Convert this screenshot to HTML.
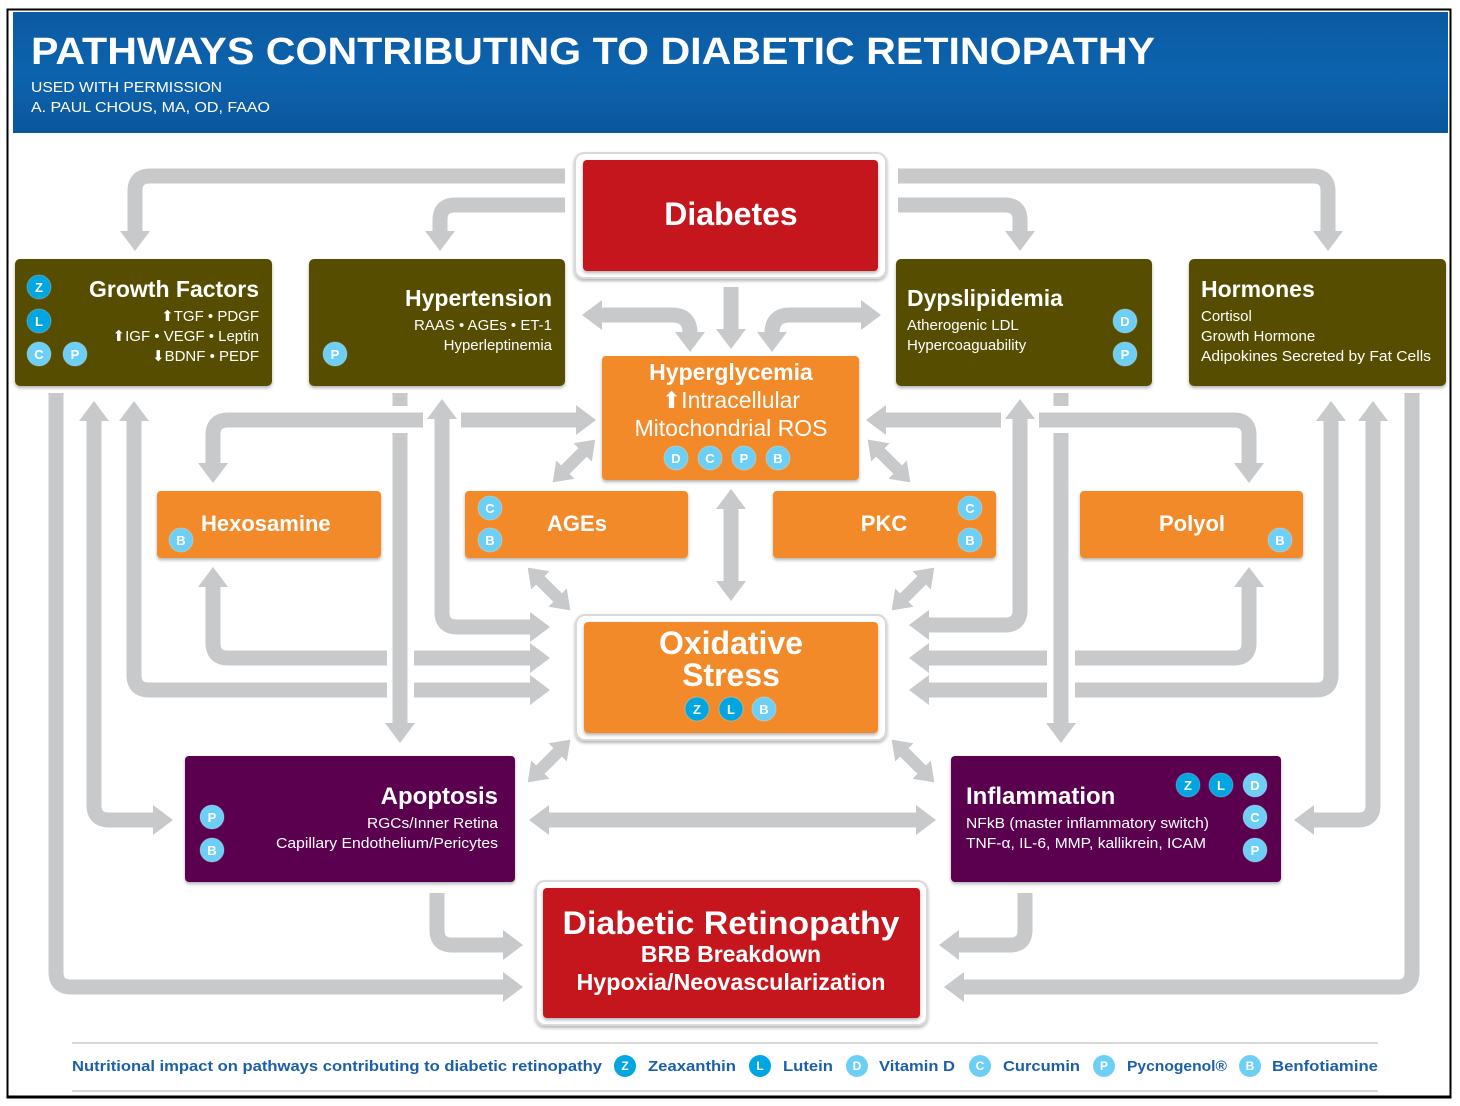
<!DOCTYPE html>
<html><head><meta charset="utf-8"><style>
html,body{margin:0;padding:0;background:#fff}
svg{display:block}
text{font-family:"Liberation Sans",Arial,sans-serif}
</style></head><body>
<svg width="1460" height="1106" viewBox="0 0 1460 1106" xmlns="http://www.w3.org/2000/svg">
<defs>
<marker id="ah" viewBox="0 0 20 30" refX="1" refY="15" markerWidth="20" markerHeight="30" markerUnits="userSpaceOnUse" orient="auto-start-reverse"><path d="M0,0 L20,15 L0,30 z" fill="#c8c9cb"/></marker>
<marker id="ahs" viewBox="0 0 18 26" refX="1" refY="13" markerWidth="18" markerHeight="26" markerUnits="userSpaceOnUse" orient="auto-start-reverse"><path d="M0,0 L18,13 L0,26 z" fill="#c8c9cb"/></marker>
<linearGradient id="hb" x1="0" y1="0" x2="0" y2="1"><stop offset="0" stop-color="#0b5aa2"/><stop offset="0.5" stop-color="#0d63ae"/><stop offset="1" stop-color="#0a579d"/></linearGradient>
<filter id="sh" x="-10%" y="-10%" width="120%" height="130%"><feDropShadow dx="0" dy="2" stdDeviation="1.5" flood-color="#000" flood-opacity="0.3"/></filter>
</defs>
<!-- frame -->
<rect x="7.5" y="9.5" width="1443" height="1088" fill="none" stroke="#000" stroke-width="2"/>
<line x1="7" y1="1097" x2="1451" y2="1097" stroke="#000" stroke-width="3"/>
<rect x="13" y="12" width="1435" height="121" fill="url(#hb)"/>
<text x="31" y="64" font-size="38" font-weight="bold" fill="#fff" textLength="1124" lengthAdjust="spacingAndGlyphs">PATHWAYS CONTRIBUTING TO DIABETIC RETINOPATHY</text>
<text x="31" y="92" font-size="15" fill="#fff" textLength="191" lengthAdjust="spacingAndGlyphs">USED WITH PERMISSION</text>
<text x="31" y="112" font-size="15" fill="#fff" textLength="239" lengthAdjust="spacingAndGlyphs">A. PAUL CHOUS, MA, OD, FAAO</text>

<!-- arrows -->
<g fill="none" stroke="#c8c9cb" stroke-width="15">
<path d="M565,176 H150 Q135,176 135,191 V232" marker-end="url(#ah)"/>
<path d="M565,205 H455 Q440,205 440,220 V232" marker-end="url(#ah)"/>
<path d="M898,176 H1313 Q1328,176 1328,191 V232" marker-end="url(#ah)"/>
<path d="M898,205 H1005 Q1020,205 1020,220 V232" marker-end="url(#ah)"/>
<path d="M731,287 V330" marker-end="url(#ah)"/>
<path d="M601,315 H672 Q690,315 690,333" marker-start="url(#ah)" marker-end="url(#ah)"/>
<path d="M862,315 H790 Q772,315 772,333" marker-start="url(#ah)" marker-end="url(#ah)"/>
<!-- left -->
<path d="M577,420 H228 Q213,420 213,435 V464" marker-start="url(#ah)" marker-end="url(#ah)"/>
<path d="M213,586 V643 Q213,658 228,658 H531" marker-start="url(#ah)" marker-end="url(#ah)"/>
<path d="M134,420 V675 Q134,690 149,690 H531" marker-start="url(#ah)" marker-end="url(#ah)"/>
<path d="M94,420 V805 Q94,820 109,820 H154" marker-start="url(#ah)" marker-end="url(#ah)"/>
<path d="M56,393 V972 Q56,987 71,987 H504" marker-end="url(#ah)"/>
<!-- right -->
<path d="M885,420 H1234 Q1249,420 1249,435 V464" marker-start="url(#ah)" marker-end="url(#ah)"/>
<path d="M1249,586 V643 Q1249,658 1234,658 H928" marker-start="url(#ah)" marker-end="url(#ah)"/>
<path d="M1331,420 V675 Q1331,690 1316,690 H928" marker-start="url(#ah)" marker-end="url(#ah)"/>
<path d="M1373,420 V805 Q1373,820 1358,820 H1313" marker-start="url(#ah)" marker-end="url(#ah)"/>
<path d="M1412,393 V972 Q1412,987 1397,987 H963" marker-end="url(#ah)"/>
</g>
<!-- gaps -->
<g fill="#fff">
<rect x="423" y="410" width="38" height="22"/>
<rect x="1001" y="410" width="38" height="22"/>
<rect x="387" y="645" width="27" height="60"/>
<rect x="1047" y="645" width="28" height="60"/>
</g>
<g fill="none" stroke="#c8c9cb" stroke-width="15">
<path d="M400,393 V406"/>
<path d="M400,433 V724" marker-end="url(#ah)"/>
<path d="M442,418 V612 Q442,627 457,627 H531" marker-start="url(#ah)" marker-end="url(#ah)"/>
<path d="M1061,393 V406"/>
<path d="M1061,433 V724" marker-end="url(#ah)"/>
<path d="M1020,418 V610 Q1020,625 1005,625 H928" marker-start="url(#ah)" marker-end="url(#ah)"/>
<path d="M437,893 V930 Q437,945 452,945 H504" marker-end="url(#ah)"/>
<path d="M1025,893 V930 Q1025,945 1010,945 H958" marker-end="url(#ah)"/>
<path d="M548,820 H917" marker-start="url(#ah)" marker-end="url(#ah)"/>
<path d="M731,508 V582" marker-start="url(#ah)" marker-end="url(#ah)"/>
</g>
<g fill="none" stroke="#c8c9cb" stroke-width="12">
<path d="M564.7,470.3 L583.3,451.7" marker-start="url(#ahs)" marker-end="url(#ahs)"/>
<path d="M539.7,579.7 L558.3,598.3" marker-start="url(#ahs)" marker-end="url(#ahs)"/>
<path d="M539.7,770.3 L558.3,751.7" marker-start="url(#ahs)" marker-end="url(#ahs)"/>
<path d="M879.7,451.7 L898.3,470.3" marker-start="url(#ahs)" marker-end="url(#ahs)"/>
<path d="M903.7,598.3 L922.3,579.7" marker-start="url(#ahs)" marker-end="url(#ahs)"/>
<path d="M903.7,751.7 L922.3,770.3" marker-start="url(#ahs)" marker-end="url(#ahs)"/>
</g>

<!-- frames -->
<g fill="#fff" stroke="#d9d9d9" stroke-width="2" filter="url(#sh)">
<rect x="575" y="153" width="311" height="125" rx="9"/>
<rect x="576" y="615" width="310" height="125" rx="9"/>
<rect x="536" y="881" width="391" height="144" rx="9"/>
</g>
<!-- boxes -->
<g filter="url(#sh)">
<rect x="583" y="160" width="295" height="111" rx="4" fill="#c4161c"/>
<rect x="584" y="622" width="294" height="111" rx="4" fill="#f28a2b"/>
<rect x="543" y="888" width="377" height="130" rx="4" fill="#c4161c"/>
<rect x="15" y="259" width="257" height="127" rx="5" fill="#564d00"/>
<rect x="309" y="259" width="256" height="127" rx="5" fill="#564d00"/>
<rect x="896" y="259" width="256" height="127" rx="5" fill="#564d00"/>
<rect x="1189" y="259" width="257" height="127" rx="5" fill="#564d00"/>
<rect x="602" y="356" width="257" height="124" rx="4" fill="#f28a2b"/>
<rect x="157" y="491" width="224" height="67" rx="4" fill="#f28a2b"/>
<rect x="465" y="491" width="223" height="67" rx="4" fill="#f28a2b"/>
<rect x="773" y="491" width="223" height="67" rx="4" fill="#f28a2b"/>
<rect x="1080" y="491" width="223" height="67" rx="4" fill="#f28a2b"/>
<rect x="185" y="756" width="330" height="126" rx="4" fill="#5a004f"/>
<rect x="951" y="756" width="330" height="126" rx="4" fill="#5a004f"/>
</g>

<!-- texts -->
<g fill="#fff" font-weight="bold">
<text x="731" y="225" font-size="32" text-anchor="middle">Diabetes</text>
<text x="731" y="654" font-size="32" text-anchor="middle">Oxidative</text>
<text x="731" y="686" font-size="32" text-anchor="middle">Stress</text>
<text x="731" y="934" font-size="32" text-anchor="middle" textLength="337" lengthAdjust="spacingAndGlyphs">Diabetic Retinopathy</text>
<text x="731" y="962" font-size="23" text-anchor="middle">BRB Breakdown</text>
<text x="731" y="990" font-size="23" text-anchor="middle" textLength="309" lengthAdjust="spacingAndGlyphs">Hypoxia/Neovascularization</text>
<text x="259" y="297" font-size="23" text-anchor="end">Growth Factors</text>
<text x="552" y="306" font-size="23" text-anchor="end">Hypertension</text>
<text x="907" y="306" font-size="23">Dypslipidemia</text>
<text x="1201" y="297" font-size="23">Hormones</text>
<text x="731" y="380" font-size="23" text-anchor="middle">Hyperglycemia</text>
<text x="201" y="531" font-size="22">Hexosamine</text>
<text x="577" y="531" font-size="22" text-anchor="middle">AGEs</text>
<text x="884" y="531" font-size="22" text-anchor="middle">PKC</text>
<text x="1192" y="531" font-size="22" text-anchor="middle">Polyol</text>
<text x="498" y="804" font-size="24" text-anchor="end">Apoptosis</text>
<text x="966" y="804" font-size="24">Inflammation</text>
</g>
<g fill="#fff" font-size="15">
<text x="259" y="321" text-anchor="end">⬆TGF • PDGF</text>
<text x="259" y="341" text-anchor="end">⬆IGF • VEGF • Leptin</text>
<text x="259" y="361" text-anchor="end">⬇BDNF • PEDF</text>
<text x="552" y="330" text-anchor="end">RAAS • AGEs • ET-1</text>
<text x="552" y="350" text-anchor="end">Hyperleptinemia</text>
<text x="907" y="330">Atherogenic LDL</text>
<text x="907" y="350">Hypercoaguability</text>
<text x="1201" y="321">Cortisol</text>
<text x="1201" y="341">Growth Hormone</text>
<text x="1201" y="361" textLength="230" lengthAdjust="spacingAndGlyphs">Adipokines Secreted by Fat Cells</text>
<text x="731" y="408" font-size="23" text-anchor="middle">⬆Intracellular</text>
<text x="731" y="436" font-size="23" text-anchor="middle" textLength="193" lengthAdjust="spacingAndGlyphs">Mitochondrial ROS</text>
<text x="498" y="828" text-anchor="end" textLength="131" lengthAdjust="spacingAndGlyphs">RGCs/Inner Retina</text>
<text x="498" y="848" text-anchor="end" textLength="222" lengthAdjust="spacingAndGlyphs">Capillary Endothelium/Pericytes</text>
<text x="966" y="828" textLength="243" lengthAdjust="spacingAndGlyphs">NFkB (master inflammatory switch)</text>
<text x="966" y="848" textLength="240" lengthAdjust="spacingAndGlyphs">TNF-α, IL-6, MMP, kallikrein, ICAM</text>
</g>

<!-- badges -->
<g font-size="13" font-weight="bold" text-anchor="middle" stroke="#fff" stroke-opacity="0.25">
<g fill="#00a6e2"><circle cx="39" cy="287" r="12"/><circle cx="39" cy="321" r="12"/><circle cx="697" cy="709" r="12"/><circle cx="731" cy="709" r="12"/><circle cx="1188" cy="785" r="12"/><circle cx="1221" cy="785" r="12"/></g>
<g fill="#6dcff6"><circle cx="39" cy="354" r="12"/><circle cx="75" cy="354" r="12"/><circle cx="335" cy="354" r="12"/><circle cx="1125" cy="321" r="12"/><circle cx="1125" cy="354" r="12"/>
<circle cx="676" cy="458" r="12"/><circle cx="710" cy="458" r="12"/><circle cx="744" cy="458" r="12"/><circle cx="778" cy="458" r="12"/>
<circle cx="181" cy="540" r="12"/><circle cx="490" cy="508" r="12"/><circle cx="490" cy="540" r="12"/><circle cx="970" cy="508" r="12"/><circle cx="970" cy="540" r="12"/><circle cx="1280" cy="540" r="12"/>
<circle cx="764" cy="709" r="12"/><circle cx="212" cy="817" r="12"/><circle cx="212" cy="850" r="12"/><circle cx="1255" cy="785" r="12"/><circle cx="1255" cy="817" r="12"/><circle cx="1255" cy="850" r="12"/></g>
</g>
<g fill="#fff" font-size="13" font-weight="bold" text-anchor="middle">
<text x="39" y="292">Z</text><text x="39" y="326">L</text><text x="39" y="359">C</text><text x="75" y="359">P</text><text x="335" y="359">P</text>
<text x="1125" y="326">D</text><text x="1125" y="359">P</text>
<text x="676" y="463">D</text><text x="710" y="463">C</text><text x="744" y="463">P</text><text x="778" y="463">B</text>
<text x="181" y="545">B</text><text x="490" y="513">C</text><text x="490" y="545">B</text><text x="970" y="513">C</text><text x="970" y="545">B</text><text x="1280" y="545">B</text>
<text x="697" y="714">Z</text><text x="731" y="714">L</text><text x="764" y="714">B</text>
<text x="212" y="822">P</text><text x="212" y="855">B</text>
<text x="1188" y="790">Z</text><text x="1221" y="790">L</text><text x="1255" y="790">D</text><text x="1255" y="822">C</text><text x="1255" y="855">P</text>
</g>

<!-- legend -->
<line x1="72" y1="1043" x2="1378" y2="1043" stroke="#d8d8d8" stroke-width="2"/>
<line x1="72" y1="1091" x2="1378" y2="1091" stroke="#d8d8d8" stroke-width="2"/>
<g fill="#1b5faa" font-size="15" font-weight="bold">
<text x="72" y="1071" textLength="530" lengthAdjust="spacingAndGlyphs">Nutritional impact on pathways contributing to diabetic retinopathy</text>
<text x="648" y="1071" textLength="88" lengthAdjust="spacingAndGlyphs">Zeaxanthin</text>
<text x="783" y="1071" textLength="50" lengthAdjust="spacingAndGlyphs">Lutein</text>
<text x="879" y="1071" textLength="76" lengthAdjust="spacingAndGlyphs">Vitamin D</text>
<text x="1003" y="1071" textLength="77" lengthAdjust="spacingAndGlyphs">Curcumin</text>
<text x="1127" y="1071" textLength="100" lengthAdjust="spacingAndGlyphs">Pycnogenol®</text>
<text x="1272" y="1071" textLength="106" lengthAdjust="spacingAndGlyphs">Benfotiamine</text>
</g>
<g fill="#00a6e2"><circle cx="625" cy="1066" r="11"/><circle cx="760" cy="1066" r="11"/></g>
<g fill="#6dcff6"><circle cx="857" cy="1066" r="11"/><circle cx="980" cy="1066" r="11"/><circle cx="1104" cy="1066" r="11"/><circle cx="1250" cy="1066" r="11"/></g>
<g fill="#fff" font-size="12" font-weight="bold" text-anchor="middle">
<text x="625" y="1070">Z</text><text x="760" y="1070">L</text><text x="857" y="1070">D</text><text x="980" y="1070">C</text><text x="1104" y="1070">P</text><text x="1250" y="1070">B</text>
</g>
</svg>
</body></html>
